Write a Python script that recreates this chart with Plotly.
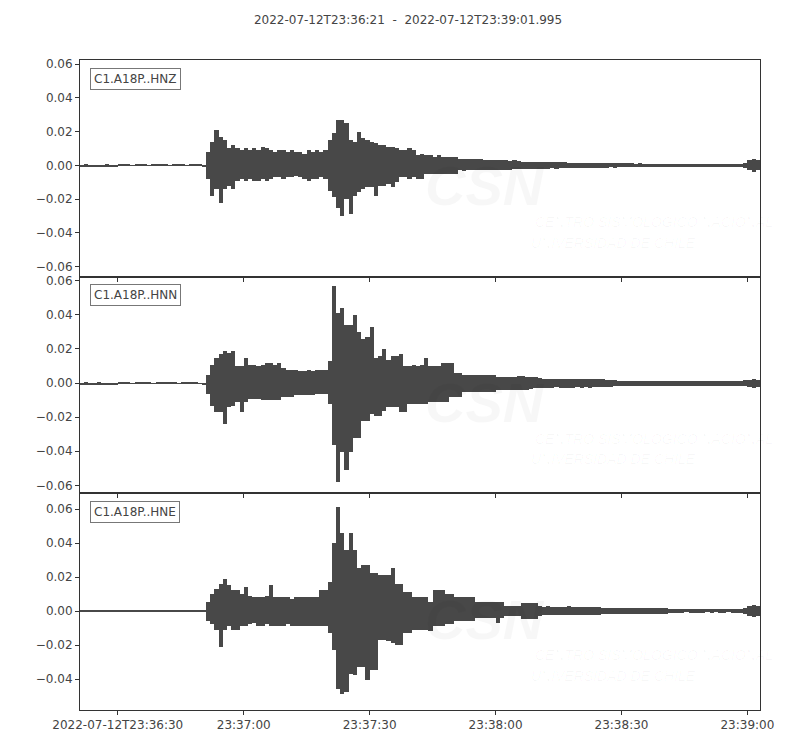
import plotly.graph_objects as go
from plotly.subplots import make_subplots

# ========================================================
# Data
# --------------------------------------------------------
# One bin per second from 2022-07-12T23:36:21, peak up / peak down
# of the trace inside each bin, in units of 1e-3
# ========================================================

t_start = "2022-07-12T23:36:21"
t_end = "2022-07-12T23:39:01.995"
duration = 161.995

channels = ["C1.A18P..HNZ", "C1.A18P..HNN", "C1.A18P..HNE"]

hnz_up = [0.5, 0.6, 0.4, 0.5, 0.5, 0.4, 0.6, 0.5, 0.4, 0.3,
          0.3, 0.3, 0.2, 0.3, 0.3, 0.3, 0.2, 0.3, 0.3, 0.3,
          0.3, 0.2, 0.3, 0.3, 0.3, 0.2, 0.3, 0.3, 0.3, 0.5,
          8, 14, 21, 17, 15, 10, 12, 10, 9, 10,
          9, 10, 9, 11, 10, 9, 8, 9, 9, 8,
          9, 8, 8, 7, 9, 8, 9, 8, 9, 15,
          19, 27, 27, 25, 15, 14, 20, 16, 15, 14,
          13, 12, 12, 11, 11, 10, 9, 9, 10, 9,
          6, 7, 6, 6, 5, 6, 5, 5, 5, 5,
          4, 4, 4, 3.5, 4, 3.5, 3, 3, 3, 3,
          3, 3, 2.5, 3, 2.5, 2, 2, 2.2, 2, 2,
          2, 2.2, 2, 2, 1.8, 1.8, 1.5, 1.6, 1.5, 1.5,
          1.5, 1.6, 1.4, 1.5, 1.4, 1.3, 1.3, 1.4, 1.2, 1.2,
          1.2, 1.3, 1.1, 1.2, 1.1, 1.0, 1.0, 1.1, 1.0, 1.0,
          0.8, 0.9, 0.8, 0.8, 0.7, 0.8, 0.9, 0.8, 0.8, 0.7,
          0.8, 0.8, 0.7, 0.7, 0.8, 0.7, 0.8, 0.8, 1.5, 3,
          4, 3]

hnz_lo = [-0.5, -0.4, -0.5, -0.6, -0.4, -0.5, -0.5, -0.4, -0.5, -0.3,
          -0.3, -0.2, -0.3, -0.3, -0.3, -0.2, -0.3, -0.3, -0.3, -0.3,
          -0.2, -0.3, -0.3, -0.3, -0.2, -0.3, -0.3, -0.3, -0.3, -0.5,
          -8, -18, -14, -22, -14, -12, -14, -9, -8, -9,
          -8, -9, -9, -8, -9, -8, -7, -7, -8, -7,
          -7, -6, -7, -8, -9, -8, -8, -7, -8, -15,
          -19, -25, -30, -20, -29, -18, -16, -14, -13, -13,
          -18, -12, -12, -11, -13, -10, -7, -7, -8, -7,
          -8, -8, -5, -5, -5, -5, -5, -5, -5, -5,
          -3, -3.5, -3, -3, -3, -3, -2.5, -2.5, -2.5, -2.5,
          -2.5, -2.5, -2.5, -2, -2, -2, -2.2, -2, -2, -2,
          -2, -2, -1.8, -2, -1.8, -1.6, -1.5, -1.5, -1.5, -1.4,
          -1.5, -1.4, -1.4, -1.3, -1.4, -1.3, -1.2, -1.3, -1.2, -1.2,
          -1.1, -1.2, -1.1, -1.2, -1.0, -1.0, -1.1, -1.0, -1.0, -0.9,
          -0.8, -0.8, -0.9, -0.8, -0.7, -0.8, -0.8, -0.7, -0.8, -0.8,
          -0.7, -0.8, -0.8, -0.7, -0.8, -0.7, -0.7, -0.8, -1.5, -3,
          -4, -3]

hnn_up = [0.5, 0.6, 0.5, 0.4, 0.6, 0.5, 0.5, 0.4, 0.5, 0.3,
          0.3, 0.3, 0.2, 0.3, 0.3, 0.3, 0.3, 0.2, 0.3, 0.3,
          0.3, 0.3, 0.3, 0.2, 0.3, 0.3, 0.3, 0.3, 0.2, 0.5,
          5, 11, 15, 17, 19, 18, 19, 10, 10, 15,
          11, 11, 10, 11, 12, 12, 11, 12, 9, 8,
          8, 8, 7, 7, 8, 7, 8, 8, 8, 13,
          57, 41, 44, 34, 34, 40, 30, 26, 27, 33,
          15, 16, 20, 14, 16, 16, 17, 10, 10, 11,
          10, 11, 15, 10, 10, 10, 12, 12, 12, 6,
          6, 5, 5, 5, 5, 5, 5, 5, 5, 4,
          4, 4, 4, 4, 4.5, 4.5, 4, 4, 3.5, 3,
          2.5, 2.5, 2.8, 2.5, 2.5, 2.6, 2.5, 2.4, 2.5, 2.5,
          2.5, 2.4, 2.5, 2.3, 2.4, 2.2, 2.0, 2.0, 1.6, 1.5,
          1.5, 1.6, 1.5, 1.5, 1.4, 1.5, 1.5, 1.6, 1.4, 1.5,
          1.5, 1.4, 1.5, 1.5, 1.4, 1.5, 1.4, 1.3, 1.5, 1.4,
          1.4, 1.5, 1.3, 1.4, 1.5, 1.4, 1.3, 1.4, 1.8, 2.2,
          2.5, 2]

hnn_lo = [-0.5, -0.5, -0.6, -0.4, -0.5, -0.5, -0.4, -0.5, -0.5, -0.3,
          -0.3, -0.2, -0.3, -0.3, -0.3, -0.3, -0.2, -0.3, -0.3, -0.3,
          -0.3, -0.3, -0.2, -0.3, -0.3, -0.3, -0.3, -0.2, -0.3, -0.5,
          -6, -13, -17, -17, -24, -14, -13, -11, -17, -11,
          -9, -9, -9, -10, -10, -10, -10, -10, -8, -8,
          -8, -7, -7, -7, -7, -7, -6, -6, -6, -12,
          -36, -58, -40, -51, -40, -32, -32, -22, -22, -18,
          -19, -19, -16, -14, -14, -14, -17, -17, -12, -12,
          -12, -12, -12, -11, -11, -11, -11, -11, -8, -8,
          -8, -5, -5, -5, -5, -5, -5, -5, -5, -4,
          -4, -4, -4, -4, -4, -4, -4, -3.5, -3, -3,
          -2.5, -2.6, -2.5, -2.4, -2.5, -2.5, -2.7, -2.5, -2.4, -2.5,
          -2.4, -2.5, -2.3, -2.4, -2.2, -2.1, -2.0, -1.8, -1.6, -1.5,
          -1.5, -1.5, -1.4, -1.6, -1.5, -1.5, -1.4, -1.5, -1.5, -1.4,
          -1.4, -1.5, -1.4, -1.4, -1.5, -1.4, -1.5, -1.4, -1.3, -1.4,
          -1.5, -1.4, -1.4, -1.3, -1.4, -1.5, -1.4, -1.3, -1.8, -2.2,
          -2.5, -2]

hne_up = [0.4, 0.4, 0.5, 0.4, 0.4, 0.5, 0.4, 0.4, 0.4, 0.4,
          0.4, 0.4, 0.4, 0.3, 0.4, 0.4, 0.4, 0.4, 0.3, 0.4,
          0.4, 0.4, 0.3, 0.4, 0.4, 0.4, 0.4, 0.4, 0.4, 0.6,
          5, 10, 13, 16, 19, 15, 12, 12, 10, 14,
          9, 8, 8, 8, 9, 15, 8, 8, 8, 8,
          7, 8, 8, 8, 8, 8, 8, 12, 12, 17,
          40, 61, 46, 36, 46, 36, 25, 27, 27, 22,
          22, 21, 21, 21, 25, 16, 16, 11, 11, 8,
          8, 8, 8, 5, 12, 12, 12, 10, 10, 8,
          8, 8, 8, 8, 5, 5, 5, 5, 5, 5,
          5, 3, 3, 3, 3, 4.5, 4.5, 4.5, 4.5, 3,
          2.5, 2.6, 2.5, 2.4, 2.5, 2.5, 2.6, 2.4, 2.5, 2.5,
          2.4, 2.5, 2.4, 2.3, 1.8, 1.8, 1.9, 1.8, 1.8, 1.7,
          1.8, 1.8, 1.9, 1.8, 1.7, 1.8, 1.8, 1.7, 1.8, 1.8,
          1.0, 1.1, 1.0, 1.0, 0.9, 1.0, 1.1, 1.0, 1.0, 0.9,
          1.0, 1.0, 0.9, 1.0, 1.0, 0.9, 1.0, 1.0, 1.8, 3,
          3.5, 3]

hne_lo = [-0.4, -0.4, -0.4, -0.5, -0.4, -0.4, -0.4, -0.5, -0.4, -0.4,
          -0.4, -0.3, -0.4, -0.4, -0.4, -0.4, -0.3, -0.4, -0.4, -0.4,
          -0.4, -0.4, -0.4, -0.4, -0.3, -0.4, -0.4, -0.4, -0.4, -0.6,
          -6, -8, -11, -21, -11, -9, -11, -11, -9, -9,
          -8, -7, -9, -9, -8, -9, -9, -9, -9, -8,
          -9, -9, -9, -9, -9, -9, -9, -9, -9, -13,
          -23, -46, -49, -48, -37, -38, -33, -33, -41, -35,
          -35, -17, -17, -18, -19, -20, -20, -13, -13, -11,
          -11, -11, -11, -12, -9, -9, -9, -8, -8, -6,
          -6, -6, -6, -6, -4, -4, -4, -4, -4, -7,
          -4, -3, -3, -3, -3, -5, -5, -5, -5, -3,
          -2.5, -2.5, -2.4, -2.6, -2.5, -2.5, -2.4, -2.5, -2.6, -2.5,
          -2.5, -2.4, -2.5, -2.3, -1.8, -1.9, -1.8, -1.8, -1.7, -1.8,
          -1.8, -1.7, -1.8, -1.9, -1.8, -1.8, -1.7, -1.8, -1.8, -1.7,
          -1.0, -1.0, -1.1, -1.0, -0.9, -1.0, -1.0, -1.1, -1.0, -0.9,
          -1.0, -0.9, -1.0, -1.0, -0.9, -1.0, -1.0, -1.0, -1.8, -3,
          -3.5, -3]

ups = [hnz_up, hnn_up, hne_up]
los = [hnz_lo, hnn_lo, hne_lo]

# seconds after start for the x ticks, and their labels
tick_sec = [9, 39, 69, 99, 129, 159]
tick_txt = ["2022-07-12T23:36:30", "23:37:00", "23:37:30",
            "23:38:00", "23:38:30", "23:39:00"]

y_ranges = [[-0.0659, 0.0624], [-0.0647, 0.0624], [-0.0582, 0.0694]]
y_ticks = [[-0.06, -0.04, -0.02, 0.0, 0.02, 0.04, 0.06],
           [-0.06, -0.04, -0.02, 0.0, 0.02, 0.04, 0.06],
           [-0.04, -0.02, 0.0, 0.02, 0.04, 0.06]]

# ========================================================
# Plot
# ========================================================

trace_color = "#484848"
text_color = "#444444"
wm_color = "rgba(0,0,0,0.03)"
font_family = "DejaVu Sans"

fig = make_subplots(rows=3, cols=1, shared_xaxes=True, vertical_spacing=0)

for k in range(3):
    # min/max column per second, like the decimated obspy trace
    centers = [i + 0.5 for i in range(len(ups[k]))]
    lows = [v * 1e-3 for v in los[k]]
    spans = [(u - l) * 1e-3 for u, l in zip(ups[k], los[k])]
    fig.add_trace(go.Bar(x=centers, y=spans, base=lows, width=1.0, name=channels[k],
                         marker=dict(color=trace_color, line=dict(width=0)),
                         hoverinfo="skip", showlegend=False),
                  row=k + 1, col=1)

    fig.update_yaxes(range=y_ranges[k], tickvals=y_ticks[k], tickformat=".2f",
                     row=k + 1, col=1)

    yref = "y domain" if k == 0 else "y%d domain" % (k + 1)
    xref = "x domain" if k == 0 else "x%d domain" % (k + 1)

    # channel label box
    fig.add_annotation(text=channels[k], xref=xref, yref=yref, x=0.014, y=0.965,
                       xanchor="left", yanchor="top", showarrow=False,
                       font=dict(size=12, color=text_color, family=font_family),
                       bgcolor="white", bordercolor="#777777", borderwidth=1, borderpad=3)

    # faint CSN watermark
    fig.add_annotation(text="<b>CSN</b>", xref=xref, yref=yref, x=0.595, y=0.42,
                       xanchor="center", yanchor="middle", showarrow=False,
                       font=dict(size=56, color=wm_color, family="Liberation Sans", style="italic"))
    fig.add_annotation(text="CENTRO SISMOLÓGICO NACIONAL", xref=xref, yref=yref,
                       x=0.666, y=0.253, xanchor="left", yanchor="middle", showarrow=False,
                       font=dict(size=14, color=wm_color, family="Liberation Sans", style="italic"))
    fig.add_annotation(text="UNIVERSIDAD DE CHILE", xref=xref, yref=yref,
                       x=0.66, y=0.157, xanchor="left", yanchor="middle", showarrow=False,
                       font=dict(size=14, color=wm_color, family="Liberation Sans", style="italic"))

fig.update_xaxes(range=[0, duration], tickvals=tick_sec, ticktext=tick_txt,
                 showgrid=False, zeroline=False, showline=True, mirror=True,
                 linecolor="#333333", linewidth=1, ticks="outside", ticklen=4,
                 tickcolor="#333333", tickfont=dict(size=12, color=text_color))
fig.update_yaxes(showgrid=False, zeroline=False, showline=True, mirror=True,
                 linecolor="#333333", linewidth=1, ticks="outside", ticklen=4,
                 tickcolor="#333333", tickfont=dict(size=12, color=text_color))

# page body adds 8px, margins are set so the axes land where they should
fig.update_layout(
    width=800, height=750,
    margin=dict(l=72, r=48, t=52, b=48),
    title=dict(text=t_start + "  -  " + t_end, x=0.5, xanchor="center",
               y=0.984, yanchor="middle",
               font=dict(size=12, color=text_color, family=font_family)),
    font=dict(family=font_family, color=text_color),
    plot_bgcolor="white", paper_bgcolor="white",
    bargap=0,
)

fig.write_html("out.html")
